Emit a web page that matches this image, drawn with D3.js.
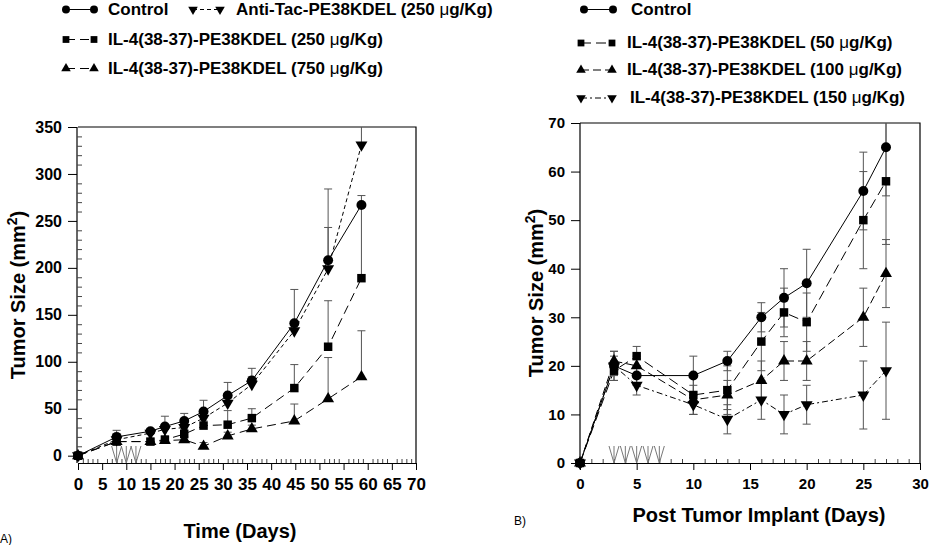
<!DOCTYPE html>
<html>
<head>
<meta charset="utf-8">
<script src="https://cdn.jsdelivr.net/npm/d3@7"></script>
<style>
  body { margin: 0; background: #fff; }
  svg { display: block; font-family: "Liberation Sans", Arial, sans-serif; }
</style>
</head>
<body>
<svg id="chart" width="930" height="545"></svg>
<script>
// ---- panel A data (Time, days) ----
const daysA = [0, 8, 15, 18, 22, 26, 31, 36, 44.8, 51.8, 58.7]
const controlA = [0, 20, 26, 31, 37, 47, 64, 80, 141, 208, 267]
const controlAErr = [0, 7, 3, 11, 8, 12, 14, 13, 36, 76, 10]
const antiTacA = [0, 17, 24, 28, 30, 40, 56, 76, 133, 199, 331]
const antiTacAErr = [0, 5, 4, 4, 5, 6, 8, 8, 10, 44, 40]
const il250A = [0, 15, 15, 17, 23, 32, 33, 40, 72, 116, 189]
const il250AErr = [0, 3, 3, 4, 5, 5, 15, 10, 25, 49, 80]
const il750A = [0, 15, 15, 16, 17, 10, 21, 28.5, 37, 60.5, 84]
const il750AErr = [0, 2, 2, 2, 3, 4, 4, 4, 18, 44, 49]
const arrowsA = [8, 10, 12]
const xTicksA = [0, 5, 10, 15, 20, 25, 30, 35, 40, 45, 50, 55, 60, 65, 70]
const yTicksA = [0, 50, 100, 150, 200, 250, 300, 350]

// ---- panel B data (post tumor implant, days) ----
const daysB = [0, 3, 5, 10, 13, 16, 18, 20, 25, 27]
const controlB = [0, 20, 18, 18, 21, 30, 34, 37, 56, 65]
const controlBErr = [0, 3, 2, 4, 2, 3, 6, 7, 8, 10]
const il50B = [0, 19, 22, 14, 15, 25, 31, 29, 50, 58]
const il50BErr = [0, 2, 2, 4, 5, 6, 5, 6, 10, 13]
const il100B = [0, 21, 20, 13, 14, 17, 21, 21, 30, 39]
const il100BErr = [0, 2, 2, 3, 3, 4, 4, 4, 6, 7]
const il150B = [0, 20, 16, 12, 9, 13, 10, 12, 14, 19]
const il150BErr = [0, 2, 2, 2, 3, 4, 4, 4, 7, 10]
const arrowsB = [3, 4, 5, 6, 7]
const xTicksB = [0, 5, 10, 15, 20, 25, 30]
const yTicksB = [0, 10, 20, 30, 40, 50, 60, 70]

const svg = d3.select('#chart')

//marker shapes
const shapes = {
    circle: d3.symbol().type(d3.symbolCircle).size(78),
    square: d3.symbol().type(d3.symbolSquare).size(72),
    up: d3.symbol().type(d3.symbolTriangle).size(62),
    down: d3.symbol().type(d3.symbolTriangle).size(62)
}
function marker(g, type, x, y, scale) {
    let s = scale || 1
    let rot = type === 'down' ? ' rotate(180)' : ''
    g.append('path')
        .attr('d', shapes[type]())
        .attr('transform', `translate(${x},${y})${rot} scale(${s})`)
        .attr('fill', '#000')
}

function drawPanel(p) {
    let x = d3.scaleLinear().domain(p.xDomain).range([p.left, p.right])
    let y = d3.scaleLinear().domain(p.yDomain).range([p.bottom, p.top])
    let g = svg.append('g')

    let clipId = 'clip' + p.name
    svg.append('clipPath').attr('id', clipId)
        .append('rect').attr('x', p.left).attr('y', p.top)
        .attr('width', p.right - p.left + 2).attr('height', p.bottom - p.top)

    // frame: top and right lines
    g.append('path')
        .attr('d', `M${p.left},${p.top}H${p.right}V${p.bottom}`)
        .attr('fill', 'none').attr('stroke', '#000').attr('stroke-width', 1.2)

    // x axis: major ticks out, minor ticks in
    g.append('g').attr('transform', `translate(0,${p.bottom})`)
        .call(d3.axisBottom(x).tickValues(p.xTicks).tickSize(7).tickSizeOuter(0).tickPadding(8).tickFormat(d3.format('d')))
        .call(a => a.select('.domain').attr('stroke-width', 1.2))
        .call(a => a.selectAll('text').attr('font-size', p.xFont).attr('font-weight', 'bold').attr('fill', '#000'))
    g.append('g').attr('transform', `translate(0,${p.bottom})`)
        .call(d3.axisTop(x).tickValues(d3.range(p.xDomain[0], p.xDomain[1] + 1, 1).filter(d => d % 5 !== 0)).tickSize(4).tickFormat(''))
        .call(a => a.select('.domain').remove())
        .call(a => a.selectAll('line').attr('stroke', '#444'))

    // y axis
    g.append('g').attr('transform', `translate(${p.yAxisX},0)`)
        .call(d3.axisLeft(y).tickValues(p.yTicks).tickSize(9).tickSizeOuter(0).tickPadding(6))
        .call(a => a.select('.domain').attr('d', `M0,${p.bottom}V${p.top}`).attr('stroke-width', 1.2))
        .call(a => a.selectAll('text').attr('font-size', p.yFont).attr('font-weight', 'bold').attr('fill', '#000'))
    if (p.yMinor) {
        g.append('g').attr('transform', `translate(${p.yAxisX},0)`)
            .call(d3.axisRight(y).tickValues(p.yMinor).tickSize(5).tickFormat(''))
            .call(a => a.select('.domain').remove())
            .call(a => a.selectAll('line').attr('stroke', '#444'))
    }

    // treatment arrows
    p.arrows.forEach(d => {
        let ax = x(d)
        g.append('path')
            .attr('d', `M${ax - 5},${p.bottom - 17}L${ax},${p.bottom}L${ax + 5},${p.bottom - 17}M${ax},${p.bottom - 17}V${p.bottom}`)
            .attr('fill', 'none').attr('stroke', '#777').attr('stroke-width', 1)
    })

    let plot = g.append('g').attr('clip-path', `url(#${clipId})`)
    let line = d3.line().x((d, i) => x(p.days[i])).y(d => y(d))

    p.series.forEach(s => {
        // error bars
        s.values.forEach((v, i) => {
            let e = s.err[i]
            if (!e) return
            let cx = x(p.days[i])
            let lo = p.bothErr ? y(v - e) : y(v)
            let hi = y(v + e)
            let path = `M${cx},${lo}V${hi}M${cx - 4},${hi}H${cx + 4}`
            if (p.bothErr) path += `M${cx - 4},${lo}H${cx + 4}`
            plot.append('path').attr('d', path)
                .attr('fill', 'none').attr('stroke', '#555').attr('stroke-width', 1)
        })
        plot.append('path')
            .attr('d', line(s.values))
            .attr('fill', 'none').attr('stroke', '#000').attr('stroke-width', 1)
            .attr('stroke-dasharray', s.dash)
    })
    p.series.forEach(s => {
        s.values.forEach((v, i) => marker(g, s.shape, x(p.days[i]), y(v)))
    })

    // legend
    p.series.forEach(s => {
        let l = s.legend
        g.append('line').attr('x1', l.x1).attr('x2', l.x2).attr('y1', l.y - 5).attr('y2', l.y - 5)
            .attr('stroke', '#000').attr('stroke-width', 1).attr('stroke-dasharray', s.dash)
        marker(g, s.shape, l.x1, l.y - 5, 0.8)
        marker(g, s.shape, l.x2, l.y - 5, 0.8)
        let t = g.append('text').attr('x', l.tx).attr('y', l.y)
            .attr('font-size', 17).attr('font-weight', 'bold')
        let parts = s.label.split('\u03bc')
        t.append('tspan').text(parts[0])
        if (parts.length > 1) {
            t.append('tspan').attr('font-weight', 'normal').text('\u03bc')
            t.append('tspan').text(parts[1])
        }
    })

    // axis titles
    let yt = g.append('text')
        .attr('transform', `translate(${p.yTitleX},${(p.top + p.bottom) / 2}) rotate(-90)`)
        .attr('text-anchor', 'middle').attr('font-size', 20).attr('font-weight', 'bold')
    yt.append('tspan').text('Tumor Size (mm')
    yt.append('tspan').attr('font-size', 14).attr('dy', -8).text('2')
    yt.append('tspan').attr('dy', 8).text(')')
    g.append('text').attr('x', p.xTitleX).attr('y', p.xTitleY)
        .attr('text-anchor', 'middle').attr('font-size', 20).attr('font-weight', 'bold')
        .text(p.xTitle)
    g.append('text').attr('x', p.tagX).attr('y', p.tagY)
        .attr('font-size', 12).text(p.tag)
}

drawPanel({
    name: 'A', left: 78, right: 416, top: 127, bottom: 463, yAxisX: 77,
    xDomain: [0, 70], yDomain: [-7.8, 350],
    xTicks: xTicksA, yTicks: yTicksA, yMinor: d3.range(0, 351, 10).filter(d => d % 50 !== 0),
    xFont: 17, yFont: 16, days: daysA, arrows: arrowsA, bothErr: false,
    yTitleX: 25, xTitle: 'Time (Days)', xTitleX: 240, xTitleY: 538,
    tag: 'A)', tagX: 0, tagY: 543,
    series: [
        { values: controlA, err: controlAErr, shape: 'circle', dash: null, label: 'Control', legend: { x1: 66, x2: 94, y: 14.5, tx: 108 } },
        { values: antiTacA, err: antiTacAErr, shape: 'down', dash: '4,3', label: 'Anti-Tac-PE38KDEL (250 \u03bcg/Kg)', legend: { x1: 193, x2: 220, y: 14.5, tx: 236 } },
        { values: il250A, err: il250AErr, shape: 'square', dash: '9,5', label: 'IL-4(38-37)-PE38KDEL (250 \u03bcg/Kg)', legend: { x1: 66, x2: 94, y: 44.5, tx: 108 } },
        { values: il750A, err: il750AErr, shape: 'up', dash: '9,5', label: 'IL-4(38-37)-PE38KDEL (750 \u03bcg/Kg)', legend: { x1: 66, x2: 94, y: 73.5, tx: 108 } }
    ]
})

drawPanel({
    name: 'B', left: 580, right: 920, top: 123, bottom: 463, yAxisX: 580,
    xDomain: [0, 30], yDomain: [0, 70],
    xTicks: xTicksB, yTicks: yTicksB, yMinor: null,
    xFont: 15, yFont: 15, days: daysB, arrows: arrowsB, bothErr: true,
    yTitleX: 543, xTitle: 'Post Tumor Implant (Days)', xTitleX: 759, xTitleY: 522,
    tag: 'B)', tagX: 514, tagY: 525,
    series: [
        { values: controlB, err: controlBErr, shape: 'circle', dash: null, label: 'Control', legend: { x1: 584, x2: 613, y: 14.5, tx: 631 } },
        { values: il50B, err: il50BErr, shape: 'square', dash: '10,5', label: 'IL-4(38-37)-PE38KDEL (50 \u03bcg/Kg)', legend: { x1: 581, x2: 612, y: 48, tx: 627 } },
        { values: il100B, err: il100BErr, shape: 'up', dash: '8,4', label: 'IL-4(38-37)-PE38KDEL (100 \u03bcg/Kg)', legend: { x1: 581, x2: 612, y: 75, tx: 627 } },
        { values: il150B, err: il150BErr, shape: 'down', dash: '6,3,2,3', label: 'IL-4(38-37)-PE38KDEL (150 \u03bcg/Kg)', legend: { x1: 581, x2: 612, y: 103, tx: 630 } }
    ]
})
</script>
</body>
</html>
